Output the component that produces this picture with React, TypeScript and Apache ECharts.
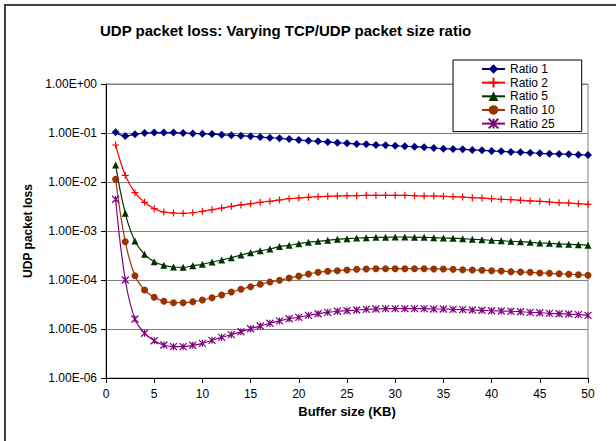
import React, { useEffect, useRef } from "react";
import * as echarts from "echarts";

const bufferKB = [
  1, 2, 3, 4, 5, 6, 7, 8, 9, 10, 11, 12, 13, 14, 15, 16, 17, 18, 19, 20, 21, 22, 23, 24, 25,
  26, 27, 28, 29, 30, 31, 32, 33, 34, 35, 36, 37, 38, 39, 40, 41, 42, 43, 44, 45, 46, 47, 48, 49, 50,
];

const ratio1 = [
  0.103, 0.087, 0.094, 0.1, 0.102, 0.102, 0.102, 0.1, 0.098, 0.097,
  0.095, 0.092, 0.09, 0.088, 0.086, 0.083, 0.08, 0.078, 0.075, 0.072,
  0.0697, 0.0677, 0.0655, 0.0634, 0.0616, 0.0597, 0.0588, 0.0569, 0.0561, 0.0551,
  0.0535, 0.0525, 0.0511, 0.0494, 0.0478, 0.0471, 0.0465, 0.045, 0.0444, 0.043,
  0.0423, 0.041, 0.0404, 0.0396, 0.0385, 0.0378, 0.0373, 0.0367, 0.0361, 0.0356,
];

const ratio2 = [
  0.0569, 0.0137, 0.00605, 0.00385, 0.00285, 0.00244, 0.00233, 0.0023, 0.00236, 0.00252,
  0.00272, 0.00294, 0.00319, 0.0034, 0.00361, 0.00385, 0.00404, 0.00429, 0.00456, 0.00471,
  0.00487, 0.00501, 0.00511, 0.00518, 0.00525, 0.00525, 0.00535, 0.00535, 0.00535, 0.00535,
  0.00535, 0.00525, 0.00518, 0.00518, 0.00511, 0.00501, 0.00494, 0.00478, 0.00471, 0.00456,
  0.00444, 0.00435, 0.00423, 0.0041, 0.00404, 0.00391, 0.00378, 0.00373, 0.00361, 0.00351,
];

const ratio5 = [
  0.0222, 0.0023, 6.25e-4, 3.34e-4, 2.36e-4, 1.99e-4, 1.84e-4, 1.81e-4, 1.96e-4, 2.09e-4,
  2.33e-4, 2.56e-4, 2.85e-4, 3.24e-4, 3.61e-4, 3.96e-4, 4.29e-4, 4.8e-4, 5.1e-4, 5.51e-4,
  5.88e-4, 6.16e-4, 6.46e-4, 6.77e-4, 6.97e-4, 7.2e-4, 7.3e-4, 7.43e-4, 7.43e-4, 7.55e-4,
  7.55e-4, 7.43e-4, 7.43e-4, 7.3e-4, 7.2e-4, 7.08e-4, 6.97e-4, 6.77e-4, 6.65e-4, 6.46e-4,
  6.34e-4, 6.16e-4, 6.05e-4, 5.88e-4, 5.69e-4, 5.62e-4, 5.43e-4, 5.35e-4, 5.25e-4, 5.1e-4,
];

const ratio10 = [
  0.0114, 6.05e-4, 1.22e-4, 6.25e-5, 4.43e-5, 3.67e-5, 3.44e-5, 3.44e-5, 3.61e-5, 3.91e-5,
  4.35e-5, 4.94e-5, 5.69e-5, 6.45e-5, 7.3e-5, 8.17e-5, 9.1e-5, 9.86e-5, 1.1e-4, 1.2e-4,
  1.32e-4, 1.44e-4, 1.51e-4, 1.55e-4, 1.6e-4, 1.65e-4, 1.68e-4, 1.7e-4, 1.7e-4, 1.7e-4,
  1.7e-4, 1.7e-4, 1.7e-4, 1.68e-4, 1.68e-4, 1.65e-4, 1.62e-4, 1.6e-4, 1.58e-4, 1.55e-4,
  1.53e-4, 1.48e-4, 1.46e-4, 1.44e-4, 1.39e-4, 1.37e-4, 1.34e-4, 1.31e-4, 1.28e-4, 1.25e-4,
];

const ratio25 = [
  4.44e-3, 1.0e-4, 1.6e-5, 8.2e-6, 5.77e-6, 4.71e-6, 4.36e-6, 4.36e-6, 4.65e-6, 5.1e-6,
  5.88e-6, 6.77e-6, 7.65e-6, 8.8e-6, 1.01e-5, 1.15e-5, 1.31e-5, 1.46e-5, 1.62e-5, 1.73e-5,
  1.9e-5, 2.05e-5, 2.19e-5, 2.3e-5, 2.36e-5, 2.44e-5, 2.52e-5, 2.56e-5, 2.6e-5, 2.6e-5,
  2.6e-5, 2.6e-5, 2.6e-5, 2.56e-5, 2.56e-5, 2.52e-5, 2.48e-5, 2.44e-5, 2.41e-5, 2.36e-5,
  2.33e-5, 2.3e-5, 2.25e-5, 2.19e-5, 2.15e-5, 2.09e-5, 2.05e-5, 2.02e-5, 1.96e-5, 1.9e-5,
];

const seriesNames = ["Ratio 1", "Ratio 2", "Ratio 5", "Ratio 10", "Ratio 25"];
const xTicks = [0, 5, 10, 15, 20, 25, 30, 35, 40, 45, 50];

const FONT = "'Liberation Sans', Arial, Helvetica, sans-serif";

function fmtExp(v: number): string {
  const e = Math.round(Math.log10(v));
  const sign = e < 0 ? "-" : "+";
  return "1.00E" + sign + String(Math.abs(e)).padStart(2, "0");
}

const PLUS = "path://M0,5L10,5M5,0L5,10";
const STAR = "path://M0,0L10,10M10,0L0,10M5,0L5,10";

export default function App() {
  const ref = useRef<HTMLDivElement>(null);

  useEffect(() => {
    if (!ref.current) return;
    const chart = echarts.init(ref.current, undefined, { renderer: "svg" });

    const mk = (vals: number[]) => bufferKB.map((x, i) => [x, vals[i]]);

    const styles = [
      { data: ratio1, color: "#000080", symbol: "diamond", size: 8, stroke: false },
      { data: ratio2, color: "#FF0000", symbol: PLUS, size: 7, stroke: true },
      { data: ratio5, color: "#003300", symbol: "triangle", size: 7, stroke: false },
      { data: ratio10, color: "#993300", symbol: "circle", size: 7, stroke: false },
      { data: ratio25, color: "#800080", symbol: STAR, size: 7, stroke: true },
    ];

    chart.setOption({
      animation: false,
      backgroundColor: "#ffffff",
      textStyle: { fontFamily: FONT },
      title: {
        text: "UDP packet loss: Varying TCP/UDP packet size ratio",
        left: 100,
        top: 23,
        padding: 0,
        textStyle: { fontSize: 15, fontWeight: "bold", color: "#000", fontFamily: FONT },
      },
      graphic: [
        {
          type: "polyline",
          shape: { points: [[5, 600], [5, 5], [800, 5]] },
          style: { fill: "none", stroke: "#404040", lineWidth: 2 },
          silent: true,
          z: -1,
        },
      ],
      legend: {
        orient: "vertical",
        left: 453,
        top: 60,
        padding: [3, 27, 2, 28],
        itemWidth: 23,
        itemHeight: 12,
        itemGap: 1.65,
        borderColor: "#000",
        borderWidth: 1,
        backgroundColor: "#fff",
        data: seriesNames,
        textStyle: { fontSize: 12, lineHeight: 12, color: "#000", fontFamily: FONT },
      },
      grid: {
        left: 106,
        top: 84,
        right: 28,
        bottom: 63,
        show: true,
        borderColor: "#808080",
        borderWidth: 1,
        backgroundColor: "transparent",
      },
      xAxis: {
        type: "value",
        min: 0,
        max: 50,
        interval: 5,
        name: "Buffer size (KB)",
        nameLocation: "middle",
        nameGap: 27,
        nameTextStyle: { fontSize: 13, fontWeight: "bold", color: "#000", fontFamily: FONT },
        axisLine: { show: true, lineStyle: { color: "#000", width: 1 } },
        axisTick: { show: true, length: 5, lineStyle: { color: "#000" } },
        axisLabel: {
          margin: 10,
          fontSize: 12,
          color: "#000",
          fontFamily: FONT,
          formatter: (v: number) => (xTicks.includes(v) ? String(v) : ""),
        },
        splitLine: { show: false },
      },
      yAxis: {
        type: "log",
        logBase: 10,
        min: 1e-6,
        max: 1,
        name: "UDP packet loss",
        nameLocation: "middle",
        nameGap: 68,
        nameTextStyle: { fontSize: 12, fontWeight: "bold", color: "#000", fontFamily: FONT },
        axisLine: { show: true, lineStyle: { color: "#000", width: 1 } },
        axisTick: { show: true, length: 5, lineStyle: { color: "#000" } },
        axisLabel: {
          margin: 9,
          fontSize: 12,
          color: "#000",
          fontFamily: FONT,
          formatter: (v: number) => fmtExp(v),
        },
        splitLine: { show: true, lineStyle: { color: "#808080", width: 1 } },
        minorTick: { show: false },
      },
      series: styles.map((s, i) => ({
        name: seriesNames[i],
        type: "line",
        data: mk(s.data),
        smooth: 0.4,
        symbol: s.symbol,
        symbolSize: s.size,
        showAllSymbol: true,
        lineStyle: { color: s.color, width: 1.2 },
        itemStyle: s.stroke
          ? { color: s.color, borderColor: s.color, borderWidth: 1.2 }
          : { color: s.color, borderWidth: 0 },
        emphasis: { disabled: true },
      })),
    });

    return () => chart.dispose();
  }, []);

  return (
    <div
      ref={ref}
      style={{ position: "fixed", left: 0, top: 0, width: 616, height: 441, background: "#fff" }}
    />
  );
}
